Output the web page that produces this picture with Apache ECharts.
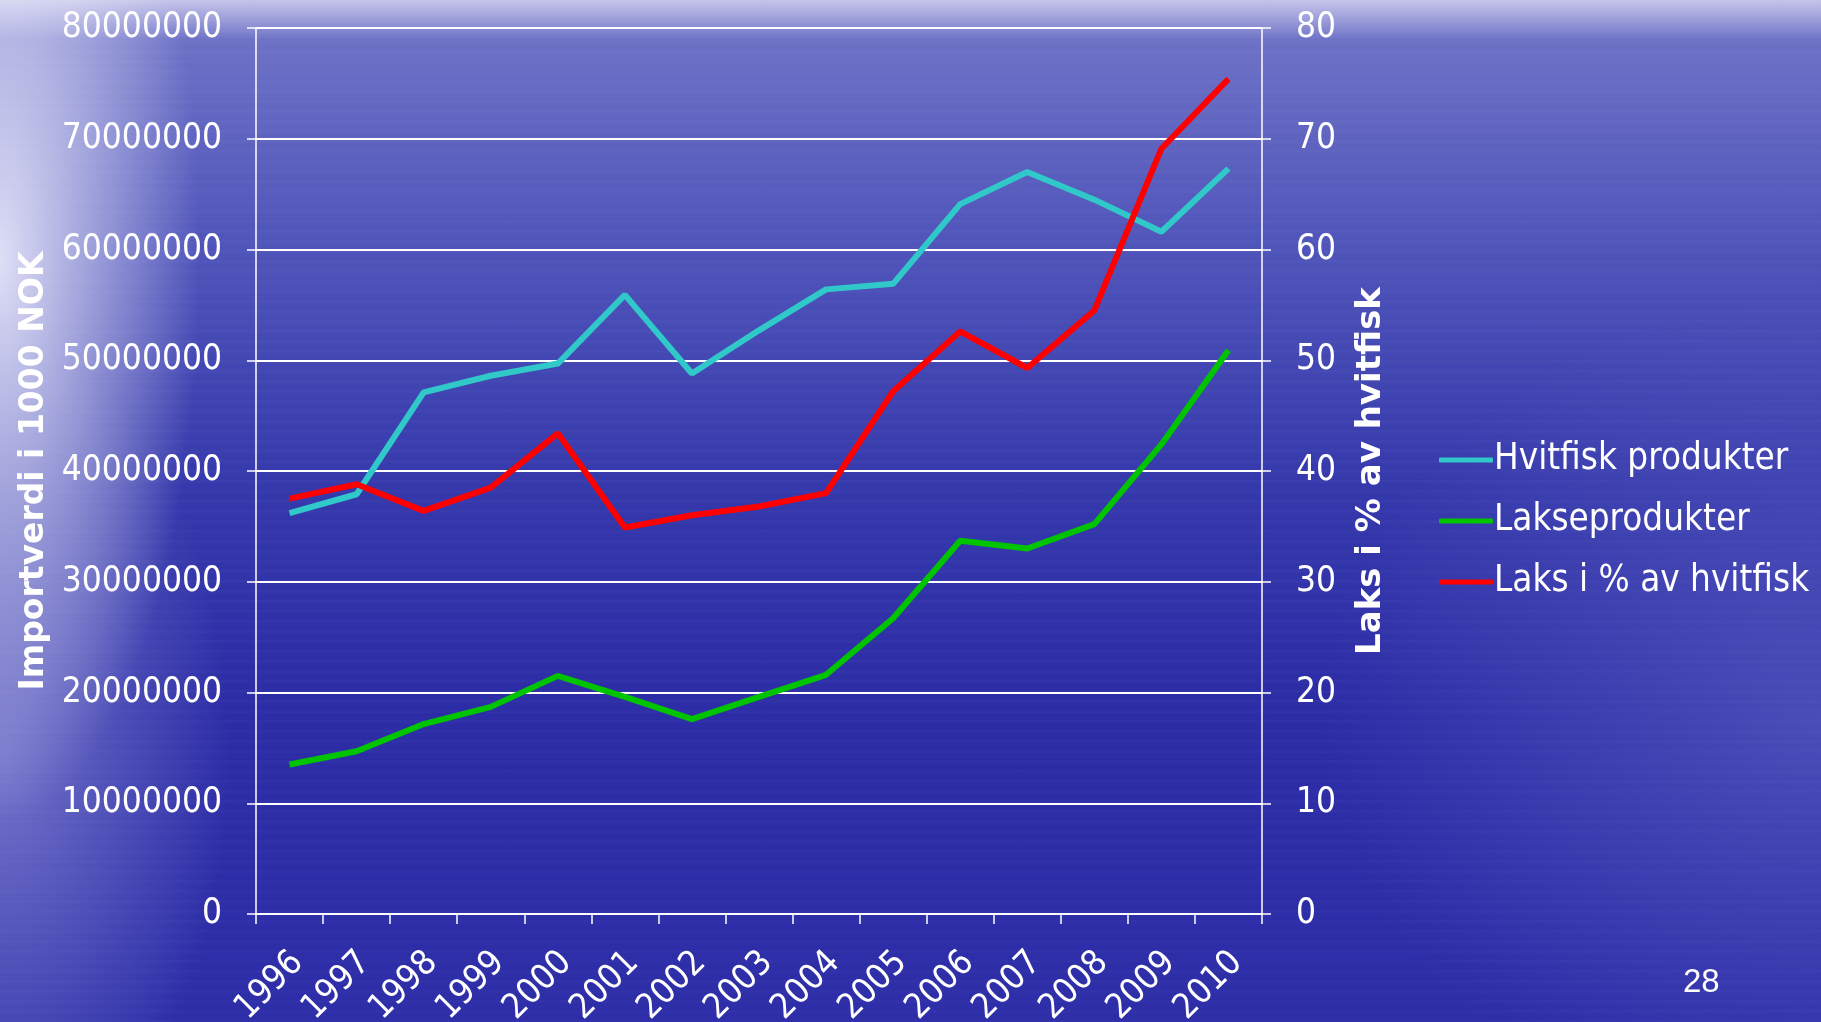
<!DOCTYPE html>
<html>
<head>
<meta charset="utf-8">
<script src="https://cdn.jsdelivr.net/npm/echarts@6/dist/echarts.min.js"></script>
<style>
html,body{margin:0;padding:0;width:1821px;height:1022px;overflow:hidden;}
body{
  background:
    radial-gradient(ellipse 200px 560px at 0px 260px, rgba(238,238,252,0.9), rgba(238,238,252,0) 100%),
    radial-gradient(ellipse 230px 420px at 0px 760px, rgba(170,172,230,0.55), rgba(170,172,230,0) 100%),
    linear-gradient(to bottom, rgba(205,205,238,0.9) 0px, rgba(205,205,238,0) 40px),
    radial-gradient(ellipse 500px 420px at 1821px 720px, rgba(110,115,205,0.45), rgba(110,115,205,0) 100%),
    repeating-linear-gradient(to bottom, rgba(255,255,255,0.018) 0px, rgba(255,255,255,0.018) 3px, rgba(255,255,255,0) 3px, rgba(255,255,255,0) 10px),
    linear-gradient(to bottom, #7377c8 0%, #5257bb 22%, #3538ab 48%, #2c2ca6 70%, #2d2ea8 100%);
}
#chart{width:1821px;height:1022px;}
</style>
</head>
<body>
<div id="chart"></div>
<script>
const years = ['1996','1997','1998','1999','2000','2001','2002','2003','2004','2005','2006','2007','2008','2009','2010'];
const hvitfisk = [36200000, 37900000, 47100000, 48600000, 49700000, 55900000, 48800000, 52700000, 56400000, 56900000, 64100000, 67000000, 64500000, 61600000, 67300000];
const lakseprodukter = [13500000, 14700000, 17150000, 18700000, 21500000, 19600000, 17600000, 19600000, 21600000, 26700000, 33700000, 33000000, 35200000, 42400000, 50900000];
const laksProsent = [37.5, 38.8, 36.4, 38.5, 43.4, 34.9, 36.0, 36.8, 38.0, 47.2, 52.6, 49.3, 54.5, 69.1, 75.4];
const leftTicks = {min: 0, max: 80000000, interval: 10000000};
const rightTicks = {min: 0, max: 80, interval: 10};

const chart = echarts.init(document.getElementById('chart'), null, {renderer: 'canvas'});
const labelFont = 'DejaVu Sans Condensed, DejaVu Sans, sans-serif';
const white = '#ffffff';
chart.setOption({
  backgroundColor: 'transparent',
  animation: false,
  grid: {left: 256, right: 559, top: 28, bottom: 108, containLabel: false, outerBoundsMode: 'none'},
  legend: {
    orient: 'vertical',
    left: 1434,
    top: 434,
    itemWidth: 54,
    itemHeight: 5,
    itemGap: 19,
    icon: 'roundRect',
    textStyle: {color: white, fontSize: 36.5, fontFamily: labelFont, lineHeight: 42, padding: [0,0,0,-4]},
    data: ['Hvitfisk produkter', 'Lakseprodukter', 'Laks i % av hvitfisk']
  },
  xAxis: {
    type: 'category',
    data: years,
    boundaryGap: true,
    axisLine: {show: true, lineStyle: {color: white, width: 2}},
    axisTick: {show: true, length: 10, lineStyle: {color: white, width: 1.5}},
    axisLabel: {color: white, fontSize: 35, fontFamily: labelFont, rotate: 45, margin: 52, interval: 0, padding: [0, -12, 0, 0]}
  },
  yAxis: [
    {
      type: 'value',
      min: leftTicks.min, max: leftTicks.max, interval: leftTicks.interval,
      name: 'Importverdi i 1000 NOK',
      nameLocation: 'middle',
      nameGap: 199,
      nameTextStyle: {color: white, fontSize: 33, fontWeight: 'bold', fontFamily: 'DejaVu Sans, sans-serif'},
      axisLine: {show: true, lineStyle: {color: white, width: 1.5}},
      axisTick: {show: true, length: 9, lineStyle: {color: white, width: 1.5}},
      axisLabel: {color: white, fontSize: 35, fontFamily: labelFont, margin: 34, formatter: v => String(v)},
      splitLine: {show: true, lineStyle: {color: white, width: 2}}
    },
    {
      type: 'value',
      min: rightTicks.min, max: rightTicks.max, interval: rightTicks.interval,
      name: 'Laks i % av hvitfisk',
      nameLocation: 'middle',
      nameGap: 92,
      nameTextStyle: {color: white, fontSize: 34, fontWeight: 'bold', fontFamily: 'DejaVu Sans, sans-serif'},
      axisLine: {show: true, lineStyle: {color: white, width: 1.5}},
      axisTick: {show: true, length: 9, lineStyle: {color: white, width: 1.5}},
      axisLabel: {color: white, fontSize: 35, fontFamily: labelFont, margin: 34, formatter: v => String(v)},
      splitLine: {show: false}
    }
  ],
  series: [
    {name: 'Hvitfisk produkter', type: 'line', yAxisIndex: 0, data: hvitfisk, symbol: 'none',
     lineStyle: {color: '#30c8c8', width: 6}, itemStyle: {color: '#30c8c8'}},
    {name: 'Lakseprodukter', type: 'line', yAxisIndex: 0, data: lakseprodukter, symbol: 'none',
     lineStyle: {color: '#00c400', width: 6}, itemStyle: {color: '#00c400'}},
    {name: 'Laks i % av hvitfisk', type: 'line', yAxisIndex: 1, data: laksProsent, symbol: 'none',
     lineStyle: {color: '#ff0000', width: 6}, itemStyle: {color: '#ff0000'}}
  ],
  graphic: [
    {type: 'text', left: 1683, top: 966, style: {text: '28', fill: white, font: '33px "Liberation Sans", Arial, sans-serif',
      shadowColor: 'rgba(0,0,0,0.9)', shadowBlur: 2, shadowOffsetX: 2, shadowOffsetY: 2}}
  ]
});
</script>
</body>
</html>
